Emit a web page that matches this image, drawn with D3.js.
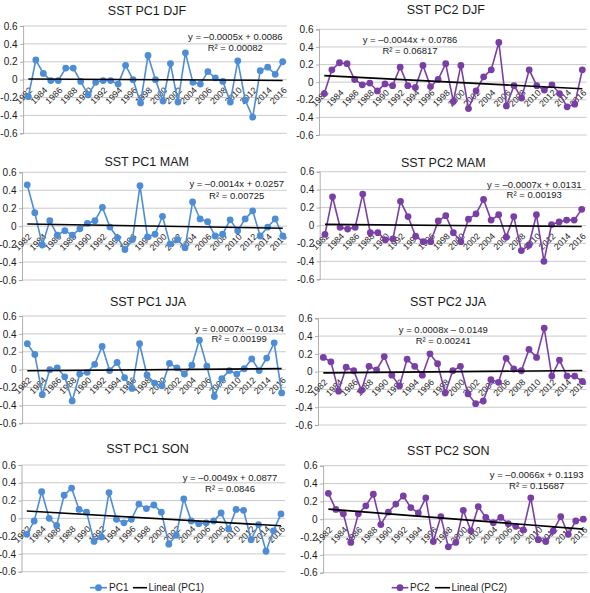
<!DOCTYPE html>
<html><head><meta charset="utf-8">
<script src="https://cdn.jsdelivr.net/npm/d3@7"></script>
<style>body{margin:0;background:#fff} svg{display:block} text{font-family:"Liberation Sans",Arial,sans-serif;fill:#1a1a1a;font-weight:normal}</style>
</head><body><svg id="c" width="590" height="593"></svg>
<script>
const years = [1982,1983,1984,1985,1986,1987,1988,1989,1990,1991,1992,1993,1994,1995,1996,1997,1998,1999,2000,2001,2002,2003,2004,2005,2006,2007,2008,2009,2010,2011,2012,2013,2014,2015,2016];
const xTickYears = [1982,1984,1986,1988,1990,1992,1994,1996,1998,2000,2002,2004,2006,2008,2010,2012,2014,2016];
const yTicks = [0.6,0.4,0.2,0,-0.2,-0.4,-0.6];

const pc1DJF = [-0.19,0.22,0.07,-0.01,-0.01,0.13,0.13,-0.02,-0.17,-0.03,-0.01,-0.01,-0.05,0.16,0.0,-0.26,0.27,0.0,-0.24,0.18,-0.25,0.30,-0.03,-0.05,0.09,0.02,-0.02,-0.25,0.21,-0.23,-0.42,0.10,0.14,0.06,0.20];
const pc2DJF = [-0.13,0.14,0.22,0.21,0.03,-0.03,-0.01,-0.10,-0.02,-0.04,0.17,-0.04,-0.06,0.19,-0.05,0.03,0.21,-0.22,0.19,-0.30,-0.10,0.06,0.14,0.45,-0.27,-0.04,-0.18,0.14,-0.04,-0.09,-0.03,-0.13,-0.28,-0.25,0.14];
const pc1MAM = [0.46,0.15,-0.21,0.06,-0.10,-0.05,-0.10,-0.03,0.03,0.06,0.21,-0.01,-0.13,-0.26,-0.15,0.45,-0.12,-0.09,0.11,-0.20,-0.15,-0.24,0.27,0.08,0.05,-0.11,-0.09,0.07,-0.05,0.08,0.17,-0.11,-0.01,0.08,-0.11];
const pc2MAM = [-0.10,0.32,-0.02,-0.04,-0.02,0.35,-0.08,-0.08,-0.16,-0.15,0.27,0.10,-0.12,-0.18,-0.18,0.05,0.11,-0.08,-0.18,0.07,0.13,0.29,0.06,0.12,-0.13,0.10,-0.28,-0.22,0.12,-0.40,0.01,0.04,0.06,0.06,0.18];
const pc1JJA = [0.29,0.17,-0.28,0.0,0.02,-0.08,-0.35,-0.05,-0.03,0.06,0.26,-0.01,0.08,-0.09,-0.21,0.29,-0.06,-0.15,-0.18,0.07,0.02,-0.05,0.05,0.33,0.04,-0.30,-0.10,-0.01,-0.05,0.01,0.12,-0.01,0.13,0.30,-0.26];
const pc2JJA = [0.16,0.11,-0.22,0.05,0.01,-0.21,0.06,0.02,0.17,-0.04,-0.16,0.14,0.06,-0.04,0.20,0.09,-0.24,0.01,0.06,-0.25,-0.36,-0.33,-0.09,-0.12,0.15,0.03,0.01,0.25,0.16,0.49,-0.05,0.13,-0.05,-0.05,-0.11];
const pc1SON = [-0.18,-0.03,0.30,0.0,-0.08,0.26,0.34,0.10,0.07,-0.26,-0.21,0.29,-0.01,-0.05,-0.01,0.16,0.11,0.15,0.07,-0.29,-0.19,0.22,-0.03,-0.06,-0.05,-0.03,0.06,-0.12,0.10,0.09,-0.24,-0.07,-0.37,-0.14,0.05];
const pc2SON = [0.29,0.11,0.06,-0.26,0.06,0.15,0.28,-0.06,0.08,0.17,0.26,0.13,0.07,0.24,-0.25,0.03,-0.31,-0.26,0.10,-0.13,0.14,0.02,-0.04,0.02,-0.05,-0.08,-0.12,0.24,-0.23,-0.25,-0.13,0.03,-0.17,-0.02,0.00];

const titles = ["SST PC1 DJF","SST PC2 DJF","SST PC1 MAM","SST PC2 MAM","SST PC1 JJA","SST PC2 JJA","SST PC1 SON","SST PC2 SON"];
const trendSlopes = [-0.0005,-0.0044,-0.0014,-0.0007,0.0007,0.0008,-0.0049,-0.0066];
const trendIntercepts = [0.0086,0.0786,0.0257,0.0131,-0.0134,-0.0149,0.0877,0.1193];
const eqTexts = ["y = –0.0005x + 0.0086","y = –0.0044x + 0.0786","y = –0.0014x + 0.0257","y = –0.0007x + 0.0131","y = 0.0007x – 0.0134","y = 0.0008x – 0.0149","y = –0.0049x + 0.0877","y = –0.0066x + 0.1193"];
const r2Texts = ["R² = 0.00082","R² = 0.06817","R² = 0.00725","R² = 0.00193","R² = 0.00199","R² = 0.00241","R² = 0.0846","R² = 0.15687"];
const seriesNames = ["PC1","PC2"];
const trendNames = ["Lineal (PC1)","Lineal (PC2)"];

const series = [pc1DJF,pc2DJF,pc1MAM,pc2MAM,pc1JJA,pc2JJA,pc1SON,pc2SON];
const colors = ["#4d8dd6","#7a3fa6"];

// layout (pixels)
const layout = [
  {l:24.6,r:286.4,t:26,b:133.3, tx:147,ty:10, ex:235.3,ey:36.7,ry:47.7},
  {l:320.5,r:586.1,t:29.3,b:135, tx:445.8,ty:9.3, ex:410,ey:40,ry:50.7},
  {l:23.5,r:286.5,t:172.3,b:280, tx:146.7,ty:161.7, ex:236.7,ey:184,ry:195.7},
  {l:321.2,r:585.5,t:171.7,b:279.3, tx:443.3,ty:162.3, ex:534.2,ey:184.3,ry:195},
  {l:23.6,r:285.4,t:316,b:423.3, tx:148,ty:301.7, ex:239.2,ey:328.7,ry:339},
  {l:319.5,r:586.1,t:318.3,b:425, tx:448,ty:301.7, ex:443.3,ey:330,ry:341},
  {l:23,r:284.7,t:465,b:571.7, tx:147.5,ty:448.3, ex:230,ey:477.7,ry:488.3},
  {l:324.6,r:587,t:465.7,b:572.7, tx:448.3,ty:450, ex:536.7,ey:475,ry:485.7}
];

const svg = d3.select("#c");
const fmt = v => v < 0 ? "-" + d3.format(".1f")(-v) : (v === 0 ? "0" : d3.format(".1f")(v));

series.forEach((vals, i) => {
  const L = layout[i];
  const color = colors[i % 2];
  const g = svg.append("g");
  const x = d3.scalePoint().domain(years).range([L.l, L.r]).padding(0.5);
  const y = d3.scaleLinear().domain([-0.6, 0.6]).range([L.b, L.t]);

  // gridlines
  g.append("g").selectAll("line").data(yTicks).join("line")
    .attr("x1", L.l - 1.5).attr("x2", L.r + 0.5)
    .attr("y1", d => y(d)).attr("y2", d => y(d))
    .attr("stroke", "#bdbdbd").attr("stroke-width", 0.8);
  // y axis
  const ya = d3.axisLeft(y).tickValues(yTicks).tickSize(3).tickPadding(2.5).tickFormat(fmt);
  const yg = g.append("g").attr("transform", `translate(${L.l - 1.5},0)`).call(ya);
  yg.select(".domain").attr("stroke", "#9a9a9a").attr("stroke-width", 0.8);
  yg.selectAll(".tick line").attr("stroke", "#9a9a9a").attr("stroke-width", 0.8);
  yg.selectAll("text").attr("font-size", 10).attr("fill", "#1a1a1a")
    .attr("font-family", '"Liberation Sans",Arial,sans-serif');

  // x labels
  g.append("g").selectAll("text").data(xTickYears).join("text")
    .attr("transform", d => `translate(${x(d) + 2.5},${y(0) + 9}) rotate(-45)`)
    .attr("text-anchor", "end").attr("dy", "0.35em")
    .attr("font-size", 8.8).text(d => d);

  // series line
  const line = d3.line().x((d, k) => x(years[k])).y(d => y(d));
  g.append("path").datum(vals).attr("d", line)
    .attr("fill", "none").attr("stroke", color).attr("stroke-width", 1.6);
  g.append("g").selectAll("circle").data(vals).join("circle")
    .attr("cx", (d, k) => x(years[k])).attr("cy", d => y(d)).attr("r", 3.4)
    .attr("fill", color);

  // trend line
  const tl = d3.line().x(k => x(years[k])).y(k => y(trendSlopes[i] * (k + 1) + trendIntercepts[i]));
  g.append("path").datum([0, years.length - 1]).attr("d", tl)
    .attr("fill", "none").attr("stroke", "#000").attr("stroke-width", 1.6);

  // title
  g.append("text").attr("x", L.tx).attr("y", L.ty).attr("dy", "0.36em")
    .attr("text-anchor", "middle").attr("font-size", 12.5).text(titles[i]);
  // equation
  g.append("text").attr("x", L.ex).attr("y", L.ey).attr("dy", "0.36em")
    .attr("text-anchor", "middle").attr("font-size", 9.5).text(eqTexts[i]);
  g.append("text").attr("x", L.ex).attr("y", L.ry).attr("dy", "0.36em")
    .attr("text-anchor", "middle").attr("font-size", 9.5).text(r2Texts[i]);
});

// legends
const legends = [
  {x1:90, x2:107, tx:109, lx1:133, lx2:147, ltx:148.5, y:587.7},
  {x1:391.7, x2:408.3, tx:410, lx1:435, lx2:450, ltx:451.5, y:587.7}
];
legends.forEach((Lg, j) => {
  const g = svg.append("g");
  g.append("line").attr("x1", Lg.x1).attr("x2", Lg.x2).attr("y1", Lg.y).attr("y2", Lg.y)
    .attr("stroke", colors[j]).attr("stroke-width", 1.6);
  g.append("circle").attr("cx", (Lg.x1 + Lg.x2) / 2).attr("cy", Lg.y).attr("r", 3.4).attr("fill", colors[j]);
  g.append("text").attr("x", Lg.tx).attr("y", Lg.y).attr("dy", "0.35em").attr("font-size", 10).text(seriesNames[j]);
  g.append("line").attr("x1", Lg.lx1).attr("x2", Lg.lx2).attr("y1", Lg.y).attr("y2", Lg.y)
    .attr("stroke", "#000").attr("stroke-width", 1.6);
  g.append("text").attr("x", Lg.ltx).attr("y", Lg.y).attr("dy", "0.35em").attr("font-size", 10).text(trendNames[j]);
});
</script></body></html>
